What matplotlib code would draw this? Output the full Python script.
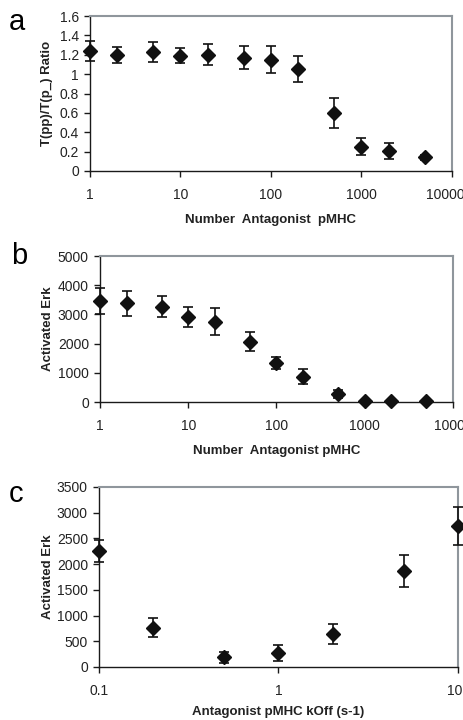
import numpy as np
import matplotlib
matplotlib.use('Agg')
from matplotlib import pyplot as plt
from matplotlib.ticker import FixedLocator, NullLocator
from matplotlib.transforms import ScaledTranslation

plt.rcParams['font.family'] = ['Liberation Sans', 'DejaVu Sans']

#   daten panel a
a_x = [1, 2, 5, 10, 20, 50, 100, 200, 500, 1000, 2000, 5000]
a_y = [1.24, 1.20, 1.23, 1.19, 1.20, 1.17, 1.15, 1.05, 0.60, 0.25, 0.21, 0.14]
a_err = [0.10, 0.08, 0.105, 0.08, 0.11, 0.12, 0.14, 0.135, 0.155, 0.088, 0.083, 0.03]

#   daten panel b
b_x = [1, 2, 5, 10, 20, 50, 100, 200, 500, 1000, 2000, 5000]
b_y = [3455, 3375, 3270, 2920, 2745, 2070, 1340, 860, 275, 35, 35, 25]
b_err = [450, 435, 365, 350, 460, 320, 205, 260, 150, 20, 20, 15]

#   daten panel c
c_x = [0.1, 0.2, 0.5, 1, 2, 5, 10]
c_y = [2255, 765, 188, 266, 635, 1860, 2735]
c_err = [215, 180, 105, 155, 195, 310, 370]

fig = plt.figure(figsize=(4.64, 7.2), dpi=100)
W, H = 464, 720


def make_ax(l, t, r, b):
    return fig.add_axes([l / W, 1 - b / H, (r - l) / W, (b - t) / H])


def style(ax, xlim, ylim, yticks, xticks, xlabels, xlabel, ylabel, xlpad, ylpad):
    ax.set_xscale('log')
    ax.set_xlim(*xlim)
    ax.set_ylim(*ylim)
    ax.set_yticks(yticks)
    ax.xaxis.set_major_locator(FixedLocator(xticks))
    ax.xaxis.set_minor_locator(NullLocator())
    ax.set_xticklabels(xlabels)
    for s in ['top', 'right']:
        ax.spines[s].set_color('#8f969c')
        ax.spines[s].set_linewidth(1.5)
    for s in ['left', 'bottom']:
        ax.spines[s].set_color('#1a1a1a')
        ax.spines[s].set_linewidth(1.0)
    ax.tick_params(direction='out', length=4, width=1, colors='#1a1a1a',
                   labelcolor='#222222', labelsize=10, pad=4)
    ax.tick_params(axis='x', pad=8)
    ax.set_xlabel(xlabel, fontsize=9.5, fontweight='bold', labelpad=xlpad, color='#222222')
    ax.set_ylabel(ylabel, fontsize=9.5, fontweight='bold', labelpad=ylpad, color='#222222')


def draw(ax, x, y, err):
    ax.errorbar(x, y, yerr=err, fmt='D', color='#111111', markersize=7,
                ecolor='#111111', elinewidth=1.2, capsize=3.5, capthick=1.2,
                clip_on=False, zorder=3)


def shift_last(ax, dx):
    #   letztes x-label etwas nach links, damit es ins bild passt
    lab = ax.get_xticklabels()[-1]
    lab.set_transform(lab.get_transform() + ScaledTranslation(dx, 0, fig.dpi_scale_trans))


#   panel a
ax1 = make_ax(90, 16, 452, 171)
draw(ax1, a_x, a_y, a_err)
style(ax1, (1, 10000), (0, 1.6), [0, 0.2, 0.4, 0.6, 0.8, 1, 1.2, 1.4, 1.6],
      [1, 10, 100, 1000, 10000], ['1', '10', '100', '1000', '10000'],
      'Number  Antagonist  pMHC', 'T(pp)/T(p_) Ratio', 9, 5)
ax1.set_yticklabels(['0', '0.2', '0.4', '0.6', '0.8', '1', '1.2', '1.4', '1.6'])
shift_last(ax1, -0.07)

#   panel b
ax2 = make_ax(100, 256, 453, 402)
draw(ax2, b_x, b_y, b_err)
style(ax2, (1, 10000), (0, 5000), [0, 1000, 2000, 3000, 4000, 5000],
      [1, 10, 100, 1000, 10000], ['1', '10', '100', '1000', '10000'],
      'Number  Antagonist pMHC', 'Activated Erk', 9, 3)

#   panel c
ax3 = make_ax(99, 487, 458, 667)
draw(ax3, c_x, c_y, c_err)
style(ax3, (0.1, 10), (0, 3500), [0, 500, 1000, 1500, 2000, 2500, 3000, 3500],
      [0.1, 1, 10], ['0.1', '1', '10'],
      'Antagonist pMHC kOff (s-1)', 'Activated Erk', 6, 2)
shift_last(ax3, -0.03)

#   buchstaben
fig.text(9 / W, 1 - 30 / H, 'a', fontsize=21)
fig.text(11 / W, 1 - 264 / H, 'b', fontsize=21)
fig.text(9 / W, 1 - 502 / H, 'c', fontsize=21)

fig.savefig('out.png', dpi=100)
